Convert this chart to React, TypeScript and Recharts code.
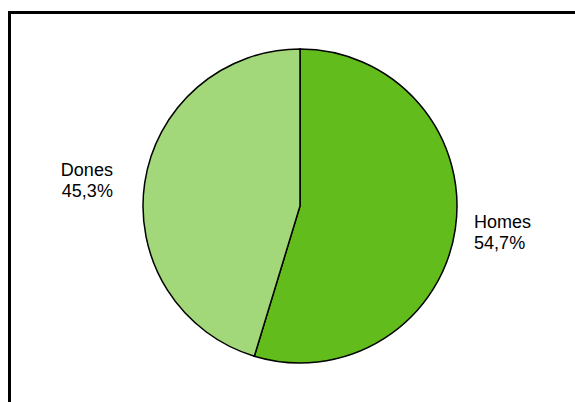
import React from 'react';
import { PieChart, Pie, Cell } from 'recharts';

const categories = ['Homes', 'Dones'];
const shares = [54.7, 45.3];
const sliceColors = ['#62bc1b', '#a3d87a'];

const data = categories.map((name, i) => ({ name, value: shares[i] }));

const RAD = Math.PI / 180;

// two-line label: category name above, percentage below (comma decimal)
const renderLabel = ({ cx, cy, midAngle, outerRadius, name, value }: any) => {
  const r = outerRadius + 17;
  const x = cx + r * Math.cos(-midAngle * RAD);
  const y = cy + r * Math.sin(-midAngle * RAD);
  const right = x > cx;
  return (
    <text
      x={x}
      y={y}
      textAnchor={right ? 'start' : 'end'}
      fill="#000"
      fontSize={18}
      fontFamily="'Liberation Sans', Arial, sans-serif"
    >
      <tspan x={right ? x + 2 : x - 15} dy={-4}>{name}</tspan>
      <tspan x={right ? x + 2 : x - 15} dy={21}>
        {value.toFixed(1).replace('.', ',')}%
      </tspan>
    </text>
  );
};

export default function App() {
  return (
    <div
      style={{
        position: 'fixed',
        left: 0,
        top: 0,
        width: 575,
        height: 402,
        overflow: 'hidden',
        background: '#fff',
      }}
    >
      <div
        style={{
          position: 'absolute',
          left: 8,
          top: 11,
          width: 620,
          height: 440,
          border: '3px solid #000',
        }}
      />
      <div style={{ position: 'absolute', left: 0, top: 0 }}>
        <PieChart width={575} height={402} margin={{ top: 0, right: 0, bottom: 0, left: 0 }}>
          <Pie
            data={data}
            dataKey="value"
            nameKey="name"
            cx={300}
            cy={206}
            outerRadius={157}
            startAngle={90}
            endAngle={-270}
            stroke="#000"
            strokeWidth={1.5}
            label={renderLabel}
            labelLine={false}
            isAnimationActive={false}
          >
            {data.map((d, i) => (
              <Cell key={d.name} fill={sliceColors[i]} />
            ))}
          </Pie>
        </PieChart>
      </div>
    </div>
  );
}
